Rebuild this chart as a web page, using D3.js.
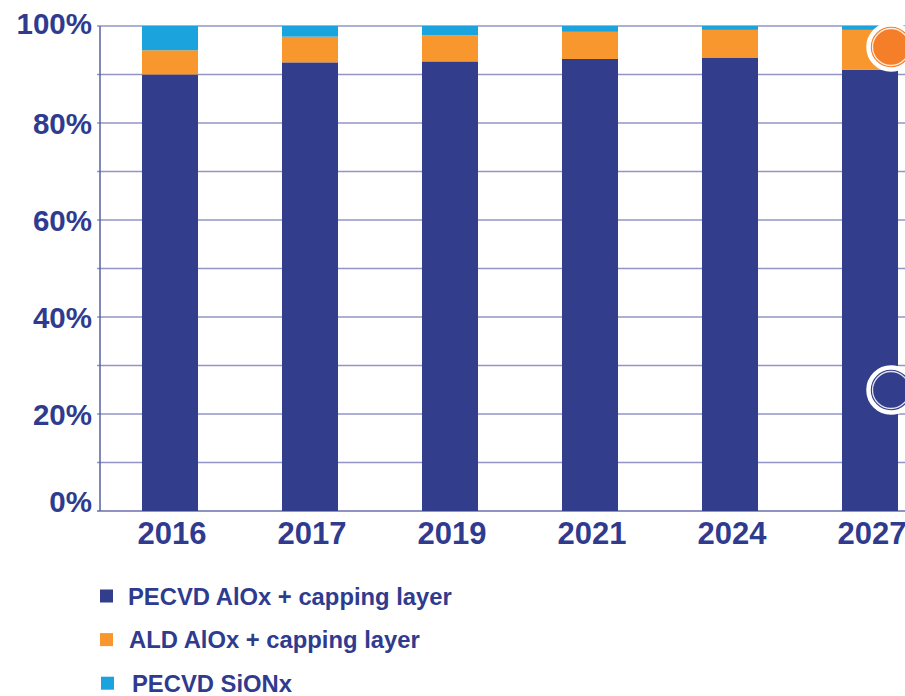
<!DOCTYPE html>
<html>
<head>
<meta charset="utf-8">
<script src="https://cdn.jsdelivr.net/npm/d3@7"></script>
<style>
  html, body { margin: 0; padding: 0; background: #ffffff; }
  svg { display: block; }
  text { font-family: "Liberation Sans", Arial, sans-serif; font-weight: bold; }
</style>
</head>
<body>
<svg id="chart" width="905" height="696"></svg>
<script>
// Market share of rear-side passivation technologies
const years = ["2016", "2017", "2019", "2021", "2024", "2027"];
const pecvdAlOx = [90.0, 92.5, 92.7, 93.2, 93.5, 91.0];
const aldAlOx   = [ 5.0,  5.3,  5.4,  5.6,  5.7,  8.2];
const pecvdSiON = [ 5.0,  2.2,  1.9,  1.2,  0.8,  0.8];
const seriesNames = ["PECVD AlOx + capping layer", "ALD AlOx + capping layer", "PECVD SiONx"];
const seriesColors = ["#323d8b", "#f7972e", "#1ba3dd"];
const yTicks = [0, 20, 40, 60, 80, 100];
const gridValues = [10, 20, 30, 40, 50, 60, 70, 80, 90, 100];

const navyText = "#2f3b8e";
const svg = d3.select("#chart");

const rows = years.map((y, i) => ({
  year: y,
  pecvd: pecvdAlOx[i],
  ald: aldAlOx[i],
  sion: pecvdSiON[i]
}));
const keys = ["pecvd", "ald", "sion"];
const stacked = d3.stack().keys(keys)(rows);

const x = d3.scaleBand()
  .domain(years)
  .range([100, 940])
  .paddingInner(0.6)
  .paddingOuter(0.3);

const y = d3.scaleLinear().domain([0, 100]).range([511, 26]);

// horizontal grid
svg.append("g")
  .selectAll("line")
  .data(gridValues)
  .join("line")
  .attr("x1", 97)
  .attr("x2", 905)
  .attr("y1", d => y(d))
  .attr("y2", d => y(d))
  .attr("stroke", "#9295c6")
  .attr("stroke-width", 1.3);

// baseline and vertical axis
svg.append("line")
  .attr("x1", 97).attr("x2", 905)
  .attr("y1", y(0)).attr("y2", y(0))
  .attr("stroke", "#6a6fae").attr("stroke-width", 1.5);
svg.append("line")
  .attr("x1", 100).attr("x2", 100)
  .attr("y1", y(100)).attr("y2", y(0))
  .attr("stroke", "#5a5fa3").attr("stroke-width", 1.5);

// stacked bars
svg.append("g")
  .selectAll("g")
  .data(stacked)
  .join("g")
  .attr("fill", (d, i) => seriesColors[i])
  .selectAll("rect")
  .data(d => d)
  .join("rect")
  .attr("x", d => x(d.data.year))
  .attr("width", x.bandwidth())
  .attr("y", d => y(d[1]))
  .attr("height", d => y(d[0]) - y(d[1]));

// y-axis labels
const yAxis = d3.axisLeft(y).tickValues(yTicks).tickFormat(d => d + "%").tickSize(0).tickPadding(8);
const yG = svg.append("g").attr("transform", "translate(100,0)").call(yAxis);
yG.select(".domain").remove();
yG.selectAll("text")
  .attr("font-size", 29.5)
  .attr("fill", navyText)
  .attr("dy", d => d === 0 ? "0.02em" : (d === 100 ? "0.27em" : "0.35em"))
  .style("font-family", "'Liberation Sans', Arial, sans-serif")
  .style("font-weight", "bold");

// x-axis labels
const xAxis = d3.axisBottom(x).tickSize(0).tickPadding(11);
const xG = svg.append("g").attr("transform", `translate(2,${y(0)})`).call(xAxis);
xG.select(".domain").remove();
xG.selectAll("text")
  .attr("font-size", 31)
  .attr("fill", navyText)
  .style("font-family", "'Liberation Sans', Arial, sans-serif")
  .style("font-weight", "bold");

// highlight markers at the right edge
function marker(cx, cy, fill) {
  const g = svg.append("g");
  g.append("circle").attr("cx", cx).attr("cy", cy).attr("r", 22.5)
    .attr("fill", fill).attr("stroke", "#ffffff").attr("stroke-width", 4.5);
  g.append("circle").attr("cx", cx).attr("cy", cy).attr("r", 18.5)
    .attr("fill", "none").attr("stroke", "#ffffff").attr("stroke-width", 1.3)
    .attr("opacity", 0.85);
}
marker(891, 47, "#f47f28");
marker(891, 390, "#323d8b");

// legend
const legend = svg.append("g")
  .selectAll("g")
  .data(seriesNames)
  .join("g")
  .attr("transform", (d, i) => `translate(100,${596 + i * 43.6})`);
legend.append("rect")
  .attr("x", (d, i) => i === 2 ? 1 : 0)
  .attr("y", -6.5)
  .attr("width", 13)
  .attr("height", 13)
  .attr("fill", (d, i) => seriesColors[i]);
legend.append("text")
  .attr("x", (d, i) => i === 0 ? 28 : (i === 1 ? 29 : 32))
  .attr("dy", "0.36em")
  .attr("font-size", 23.8)
  .attr("fill", navyText)
  .text(d => d);
</script>
</body>
</html>
